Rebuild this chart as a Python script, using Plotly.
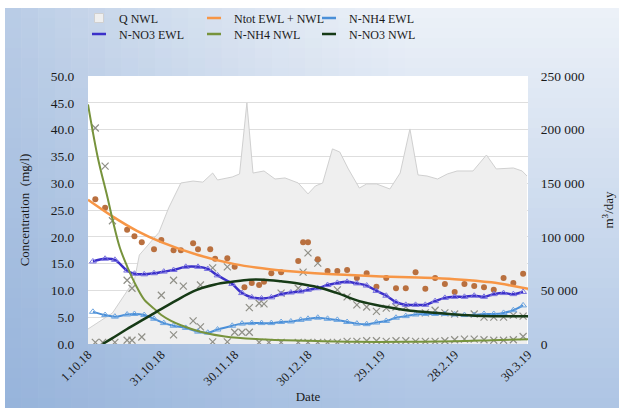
import plotly.graph_objects as go
import pandas as pd

BASE = pd.Timestamp("2018-10-01")

# ---------------- data (day offsets from 1.10.2018) ----------------
q_day = [0, 10, 19, 21, 29, 33, 38, 43, 47, 51, 53, 59, 62, 65, 67.5, 72, 76.5, 80.6, 86, 90, 93, 96,
         100, 103, 106.5, 111, 114, 118, 123.5, 127.7, 131.7, 135, 138.7, 143, 147, 151, 157.5, 163,
         167, 174, 177.6, 179.6]
q_nwl = [14000, 28900, 59700, 83000, 104000, 127000, 150200, 152000, 151000, 159500, 153000, 155800,
         158600, 224900, 159500, 161400, 153900, 154900, 150200, 140000, 147400, 150200, 182000, 179100,
         163300, 145500, 149300, 149300, 144600, 159500, 200600, 157700, 156700, 153900, 158600, 161400,
         161400, 176300, 163300, 164200, 161400, 156700]

ntot_day = [3, 7, 16, 19, 22, 27, 30, 35, 38, 43, 45, 50, 52, 57, 60, 64, 67, 70, 72, 75, 79, 86, 88,
            90, 94, 98, 102, 106, 110, 114, 118, 122, 126, 130, 134, 138, 142, 146, 150, 154, 158, 162,
            166, 170, 174, 178]
ntot = [27.0, 25.4, 21.3, 20.1, 19.0, 17.7, 19.4, 17.5, 17.5, 18.8, 17.7, 17.7, 15.9, 16.0, 14.4, 10.6,
        11.4, 11.0, 11.6, 13.2, 13.4, 15.5, 19.0, 19.0, 15.8, 13.6, 13.6, 13.8, 12.3, 13.2, 10.7, 12.3,
        10.4, 10.4, 13.4, 10.3, 12.3, 11.2, 9.7, 11.2, 10.8, 10.6, 10.1, 12.3, 11.4, 13.1]

ntot_trend_day = [0, 10, 20, 30, 45, 60, 75, 90, 105, 120, 135, 150, 165, 180]
ntot_trend = [26.9, 23.8, 21.1, 19.0, 16.6, 14.9, 13.9, 13.3, 12.9, 12.6, 12.4, 12.1, 11.5, 10.3]

ewl_day = [2, 7, 11, 16, 19, 23, 27, 31, 35, 40, 45, 49, 53, 59, 63, 67, 71, 75, 79, 83, 87, 90, 94,
           98, 102, 106, 110, 114, 118, 122, 126, 130, 134, 138, 142, 146, 150, 154, 158, 162, 166,
           170, 174, 178]
nh4_ewl = [6.0, 5.4, 5.1, 5.5, 5.6, 5.4, 4.7, 3.9, 3.4, 3.0, 2.3, 2.1, 2.7, 3.4, 3.8, 3.9, 3.9, 3.9,
           4.1, 4.2, 4.5, 4.7, 4.9, 4.7, 4.5, 4.1, 3.8, 3.7, 4.0, 4.3, 4.9, 5.2, 5.5, 5.6, 5.6, 5.6,
           5.5, 5.4, 5.4, 5.6, 5.6, 5.8, 6.3, 7.2]
no3_ewl = [15.4, 15.9, 15.7, 13.7, 13.1, 13.0, 13.2, 13.5, 13.8, 14.4, 14.4, 14.0, 12.8, 11.2, 9.5,
           8.7, 8.5, 8.7, 9.3, 9.6, 9.8, 10.1, 10.4, 11.0, 11.4, 11.6, 11.3, 10.9, 9.9, 9.0, 7.8, 7.3,
           7.3, 7.3, 8.0, 8.6, 8.8, 8.8, 9.0, 8.8, 9.3, 9.5, 9.3, 9.7]

nh4_nwl_day = [3, 7, 10, 16, 18, 22, 35, 43, 46, 51, 57, 60, 63, 66, 70, 74, 79, 86, 90, 94, 98, 102,
               106, 110, 114, 118, 122, 126, 130, 134, 138, 142, 146, 150, 154, 158, 162, 166, 170,
               174, 178]
nh4_nwl = [40.3, 33.2, 23.0, 11.9, 10.4, 1.3, 1.7, 4.3, 3.2, 0.4, 0.4, 2.2, 2.2, 2.2, 0.3, 0.3, 0.3,
           0.3, 0.3, 0.3, 0.3, 0.3, 0.5, 0.5, 0.6, 0.6, 0.5, 0.6, 0.6, 0.5, 0.5, 0.5, 0.6, 0.8, 0.9,
           0.9, 0.8, 0.7, 0.7, 0.8, 1.4]

no3_nwl_day = [3, 6, 11, 16, 18, 30, 35, 39, 46, 51, 57, 66, 70, 72, 79, 86, 88, 90, 94, 102, 106,
               110, 114, 118, 122, 126, 130, 138, 142, 146, 150, 158, 162, 166, 170, 174, 178]
no3_nwl = [0.3, 0.3, 0.3, 0.7, 0.7, 9.1, 11.9, 10.8, 11.0, 14.2, 14.4, 6.8, 7.6, 7.5, 9.5, 10.4, 13.4,
           17.0, 15.1, 10.1, 8.8, 7.3, 6.9, 6.1, 6.7, 6.9, 6.9, 5.8, 6.3, 5.8, 5.6, 5.6, 5.0, 5.0, 5.0,
           5.4, 5.2]

nh4_trend_day = [0, 4, 8, 10, 13, 16, 20, 23, 27, 30, 34, 38, 46, 56, 70, 90, 110, 130, 150, 165, 180]
nh4_trend = [44.7, 34.8, 27.3, 23.3, 18.0, 14.5, 10.6, 8.3, 6.6, 5.4, 4.3, 3.5, 2.3, 1.4, 0.9, 0.6, 0.4,
             0.4, 0.5, 0.7, 0.9]

no3_trend_day = [6, 10, 16, 22, 28, 36, 44, 52, 59, 66, 72, 79, 86, 94, 102, 111, 121, 132, 143, 153,
                 165, 180]
no3_trend = [0.0, 1.1, 2.8, 4.4, 6.0, 8.1, 10.0, 11.1, 11.6, 12.0, 12.0, 11.7, 11.3, 10.6, 9.5, 8.0,
             7.0, 6.2, 5.8, 5.4, 5.2, 5.2]

tick_day = [0, 30, 60, 90, 120, 150, 180]
tick_text = ["1.10.18", "31.10.18", "30.11.18", "30.12.18", "29.1.19", "28.2.19", "30.3.19"]

series_names = ["Q NWL", "Ntot EWL + NWL", "N-NH4 EWL", "N-NO3 EWL", "N-NH4 NWL", "N-NO3 NWL"]


def dates(days):
    return [BASE + pd.Timedelta(days=float(v)) for v in days]


FONT = "Liberation Serif, Times New Roman, DejaVu Serif, serif"
TXT = "#1a1a1a"
C_Q_FILL, C_Q_LINE = "#efefef", "#d0d0d0"
C_NTOT, C_NTOT_DOT = "#f79646", "#b9703f"
C_NH4E, C_NH4E_M = "#4a8fd8", "#6fa6e0"
C_NO3E, C_NO3E_M = "#3b30c9", "#7b74e0"
C_NH4N, C_NO3N = "#77933c", "#163a16"
C_X = "#909088"

fig = go.Figure()

# Q area on the base (right-hand) axis so that it sits beneath all other series
fig.add_trace(go.Scatter(x=dates(q_day), y=q_nwl, name=series_names[0], mode="lines", fill="tozeroy",
                         fillcolor=C_Q_FILL, line=dict(color=C_Q_LINE, width=1), yaxis="y",
                         showlegend=False))

# scatter markers
fig.add_trace(go.Scatter(x=dates(nh4_nwl_day), y=nh4_nwl, mode="markers", showlegend=False,
                         marker=dict(symbol="x-thin-open", size=7, color=C_X,
                                     line=dict(width=1.2, color=C_X)), yaxis="y2"))
fig.add_trace(go.Scatter(x=dates(no3_nwl_day), y=no3_nwl, mode="markers", showlegend=False,
                         marker=dict(symbol="x-thin-open", size=7, color=C_X,
                                     line=dict(width=1.2, color=C_X)), yaxis="y2"))
fig.add_trace(go.Scatter(x=dates(ntot_day), y=ntot, mode="markers", showlegend=False,
                         marker=dict(symbol="circle", size=6, color=C_NTOT_DOT), yaxis="y2"))

# trend / smoothed lines
fig.add_trace(go.Scatter(x=dates(ntot_trend_day), y=ntot_trend, name=series_names[1], mode="lines",
                         line=dict(color=C_NTOT, width=2.5, shape="spline"), yaxis="y2",
                         showlegend=False))
fig.add_trace(go.Scatter(x=dates(ewl_day), y=nh4_ewl, name=series_names[2], mode="lines",
                         line=dict(color=C_NH4E, width=2, shape="spline"), yaxis="y2",
                         showlegend=False))
fig.add_trace(go.Scatter(x=dates(ewl_day), y=nh4_ewl, mode="markers", showlegend=False,
                         marker=dict(symbol="triangle-up-open", size=6, color=C_NH4E_M,
                                     line=dict(width=1)), yaxis="y2"))
fig.add_trace(go.Scatter(x=dates(ewl_day), y=no3_ewl, name=series_names[3], mode="lines",
                         line=dict(color=C_NO3E, width=2.5, shape="spline"), yaxis="y2",
                         showlegend=False))
fig.add_trace(go.Scatter(x=dates(ewl_day), y=no3_ewl, mode="markers", showlegend=False,
                         marker=dict(symbol="triangle-up-open", size=6, color=C_NO3E_M,
                                     line=dict(width=1)), yaxis="y2"))
fig.add_trace(go.Scatter(x=dates(nh4_trend_day), y=nh4_trend, name=series_names[4], mode="lines",
                         line=dict(color=C_NH4N, width=2, shape="spline"), yaxis="y2",
                         showlegend=False))
fig.add_trace(go.Scatter(x=dates(no3_trend_day), y=no3_trend, name=series_names[5], mode="lines",
                         line=dict(color=C_NO3N, width=2.5, shape="spline"), yaxis="y2",
                         showlegend=False))

# legend entries (short Excel-style keys)
LSZ = 10
leg_style = [
    ("legend", dict(symbol="square", size=9, color=C_Q_FILL, line=dict(color=C_Q_LINE, width=1))),
    ("legend", dict(symbol="line-ew-open", size=LSZ, color=C_NTOT, line=dict(color=C_NTOT, width=2.5))),
    ("legend", dict(symbol="line-ew-open", size=LSZ, color=C_NH4E, line=dict(color=C_NH4E, width=2.5))),
    ("legend2", dict(symbol="line-ew-open", size=LSZ, color=C_NO3E, line=dict(color=C_NO3E, width=2.5))),
    ("legend2", dict(symbol="line-ew-open", size=LSZ, color=C_NH4N, line=dict(color=C_NH4N, width=2.5))),
    ("legend2", dict(symbol="line-ew-open", size=LSZ, color=C_NO3N, line=dict(color=C_NO3N, width=2.5))),
]
for name, (lg, mk) in zip(series_names, leg_style):
    fig.add_trace(go.Scatter(x=[None], y=[None], name=name, mode="markers", marker=mk, legend=lg,
                             yaxis="y2", hoverinfo="skip"))

# ---------------- background gradient (styling only) ----------------
L, R, T, B = 88, 94, 76, 64
W, H = 622, 408
PW, PH = W - L - R, H - T - B


def px_x(p):
    return (p - L) / PW


def px_y(p):
    return (H - B - p) / PH


shapes = []
top_c, bot_c = (236, 241, 248), (174, 197, 228)
N = 40
y_start, y_end = 8, 408
for i in range(N):
    f = i / (N - 1)
    c = tuple(int(round(top_c[k] + (bot_c[k] - top_c[k]) * f)) for k in range(3))
    y0 = y_start + (y_end - y_start) * i / N
    y1 = y_start + (y_end - y_start) * (i + 1) / N + 0.6
    shapes.append(dict(type="rect", xref="paper", yref="paper", x0=px_x(5), x1=px_x(619),
                       y0=px_y(y1), y1=px_y(y0), line=dict(width=0), fillcolor="rgb(%d,%d,%d)" % c,
                       layer="below"))
M = 24
for j in range(M):
    a = 0.45 * (1 - j / M) ** 1.3
    x0 = 5 + 400 * j / M
    x1 = 5 + 400 * (j + 1) / M
    shapes.append(dict(type="rect", xref="paper", yref="paper", x0=px_x(x0), x1=px_x(x1),
                       y0=px_y(408), y1=px_y(8), line=dict(width=0),
                       fillcolor="rgba(125,160,208,%.3f)" % a, layer="below"))
shapes.append(dict(type="rect", xref="paper", yref="paper", x0=0, x1=1, y0=0, y1=1,
                   line=dict(width=0), fillcolor="white", layer="below"))

tickfont = dict(family=FONT, size=13.5, color=TXT)
legfont = dict(family=FONT, size=12, color=TXT)
fig.update_layout(
    width=W, height=H,
    margin=dict(l=L, r=R, t=T, b=B, pad=0, autoexpand=False),
    paper_bgcolor="white", plot_bgcolor="white",
    separators=". ",
    shapes=shapes,
    font=dict(family=FONT, size=13, color=TXT),
    xaxis=dict(type="date", range=[BASE, BASE + pd.Timedelta(days=180)],
               tickvals=dates(tick_day), ticktext=tick_text, tickangle=-45,
               tickfont=dict(family=FONT, size=12.5, color=TXT),
               showgrid=False, zeroline=False, showline=False, automargin=False,
               ticks="", ticklen=0,
               title=dict(text="Date", font=dict(family=FONT, size=13, color=TXT), standoff=4)),
    yaxis=dict(side="right", range=[0, 250000], dtick=50000, tickformat=",d",
               tickfont=tickfont, showgrid=True, gridcolor="#dedede", gridwidth=1,
               minor=dict(dtick=25000, showgrid=True, gridcolor="#dedede", gridwidth=1),
               zeroline=False, showline=False, automargin=False,
               ticks="outside", ticklen=9, tickcolor="rgba(0,0,0,0)",
               title=dict(text="m<sup>3</sup>/day", font=dict(family=FONT, size=13, color=TXT),
                          standoff=20)),
    yaxis2=dict(side="left", overlaying="y", range=[0, 50], dtick=5, tickformat=".1f",
                tickfont=tickfont, showgrid=False, zeroline=False, showline=False, automargin=False,
                ticks="outside", ticklen=10, tickcolor="rgba(0,0,0,0)",
                title=dict(text="Concentration  (mg/l)",
                           font=dict(family=FONT, size=13, color=TXT), standoff=18)),
    legend=dict(orientation="h", xref="container", yref="container", x=79 / W, xanchor="left",
                y=1 - 18 / H, yanchor="middle", bgcolor="rgba(0,0,0,0)", entrywidth=70,
                font=legfont, tracegroupgap=0, itemwidth=30, itemsizing="trace"),
    legend2=dict(orientation="h", xref="container", yref="container", x=79 / W, xanchor="left",
                 y=1 - 34 / H, yanchor="middle", bgcolor="rgba(0,0,0,0)", entrywidth=70,
                 font=legfont, tracegroupgap=0, itemwidth=30, itemsizing="trace"),
)

fig.write_html("out.html", config={"displayModeBar": False},
               post_script="document.body.style.margin='0px';")
